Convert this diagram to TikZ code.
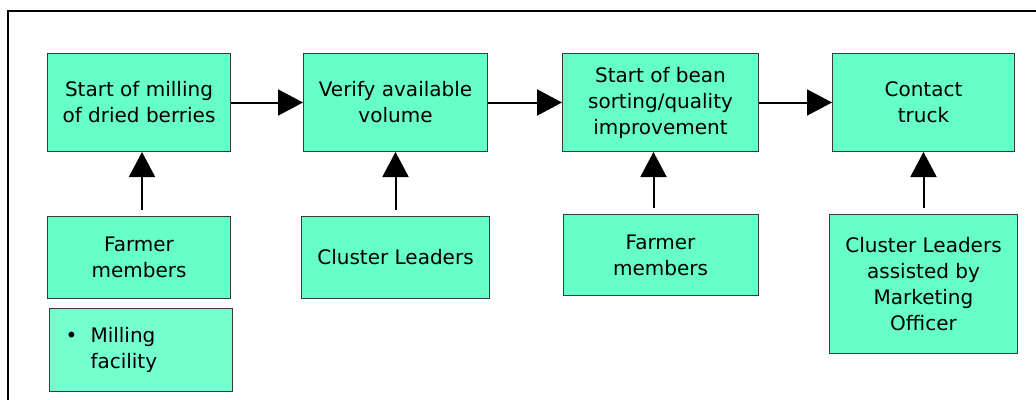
\documentclass[tikz,border=0pt]{standalone}
\usepackage{fontspec}
\setmainfont{DejaVu Sans}
\usetikzlibrary{arrows.meta, positioning}
\definecolor{mintgreen}{HTML}{66FFC8}
\definecolor{lightmint}{HTML}{74FFCE}
\definecolor{boxedge}{HTML}{3A3A3A}

\begin{document}
\begin{tikzpicture}[x=1pt, y=-1pt, font=\fontsize{20}{26}\selectfont,
    stagebox/.style={draw=boxedge, fill=mintgreen, line width=1pt, minimum height=98pt, align=center, inner sep=0pt},
    flow/.style={-{Triangle[length=25pt, width=26pt]}, line width=2pt}]
\useasboundingbox (0,0) rectangle (1036,399);
% outer frame, runs off the page to the right and bottom
\draw[line width=2pt] (8,430) -- (8,11) -- (1060,11);

% process steps
\node[stagebox, minimum width=183pt, anchor=north west] (milling) at (47,53) {Start of milling\\of dried berries};
\node[stagebox, minimum width=184pt, right=72pt of milling] (verify) {Verify available\\volume};
\node[stagebox, minimum width=196pt, right=74pt of verify] (sorting) {Start of bean\\sorting/quality\\improvement};
\node[stagebox, minimum width=182pt, right=73pt of sorting] (truck) {Contact\\truck};

% who is responsible
\node[stagebox, minimum width=183pt, minimum height=82pt, below=64pt of milling] (farmers) {Farmer\\members};
\node[stagebox, fill=lightmint, minimum width=183pt, minimum height=83pt, below=9pt of farmers, xshift=2pt, align=left, text width=183pt] (facility) {\hspace*{16pt}\makebox[25pt][l]{\textbullet}Milling\\\hspace*{41pt}facility};
\node[stagebox, minimum width=188pt, minimum height=82pt, below=64pt of verify] (leaders) {Cluster Leaders};
\node[stagebox, minimum width=195pt, minimum height=81pt, below=62pt of sorting] (sorters) {Farmer\\members};
\node[stagebox, minimum width=188pt, minimum height=139pt, below=62pt of truck] (officer) {Cluster Leaders\\assisted by\\Marketing\\Officer};

\foreach \a/\b in {milling/verify, verify/sorting, sorting/truck}
    \draw[flow] (\a) -- (\b);
\foreach \a/\b/\dx in {farmers/milling/3, leaders/verify/0, sorters/sorting/-7, officer/truck/0}
    \draw[flow, shorten <=6pt] ([xshift=\dx pt]\a.north) -- ([xshift=\dx pt]\b.south);
\end{tikzpicture}
\end{document}
